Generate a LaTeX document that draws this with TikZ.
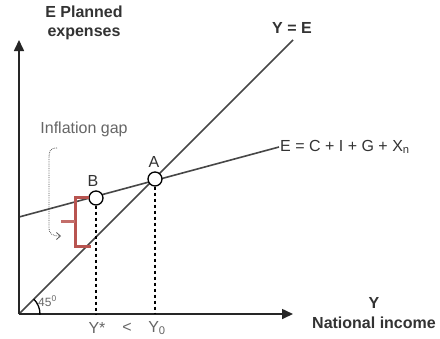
\documentclass[tikz,border=0pt]{standalone}
\usepackage{fontspec}
\setmainfont{Liberation Sans}
\usetikzlibrary{arrows.meta,calc}
\definecolor{ink}{HTML}{333333}
\definecolor{soft}{HTML}{666666}
\definecolor{gapred}{HTML}{B85450}
\begin{document}
\begin{tikzpicture}[x=1bp,y=-1bp,
  lbl/.style={inner sep=0pt,text=ink,font=\fontsize{16bp}{19bp}\selectfont},
  blbl/.style={lbl,font=\fontsize{16bp}{19bp}\selectfont\bfseries},
  glbl/.style={lbl,text=soft},
  axisline/.style={draw=black!85,line width=1.6bp,-{Triangle[length=11bp,width=10bp]}},
  curve/.style={draw=black!72,line width=1.6bp},
  pt/.style={circle,draw=black,fill=white,line width=1.3bp,minimum size=14bp,inner sep=0pt},
  guide/.style={draw=black,line width=1.5bp,dash pattern=on 3bp off 3bp},
  gap/.style={draw=gapred,line width=3bp},
  note/.style={draw=black!65,line width=0.8bp,densely dotted}]
\useasboundingbox (0,0) rectangle (440,338);
\fill[white] (0,0) rectangle (440,338);
% coordinates
\coordinate (O) at (19,314);
\coordinate (ytip) at (19,40);
\coordinate (xtip) at (293,314);
\coordinate (ye) at (293,40);
\coordinate (e0) at (19,217);
\coordinate (e1) at (279,147);
% lines
\draw[curve] (O) -- (ye);
\draw[curve] (e0) -- (e1);
\draw[axisline] (O) -- (ytip);
\draw[axisline] (O) -- (xtip);
% points
\node[pt] (A) at (155,179) {};
\node[pt] (B) at (96,198) {};
\coordinate (Ay) at (155,314);
\coordinate (By) at (96,314);
\draw[guide] (A.south) -- (Ay);
\draw[guide] (B.south) -- (By);
% red bracket
\coordinate (g1) at (89,197);
\coordinate (g2) at (75,197);
\coordinate (g3) at (75,246);
\coordinate (g4) at (91,246);
\coordinate (gt0) at (61,221);
\coordinate (gt1) at (75,221);
\draw[gap] (g1) -- (g2) -- (g3) -- (g4);
\draw[gap,draw=gapred!85] (gt0) -- (gt1);
% dotted curve arrow
\coordinate (c0) at (57,148);
\coordinate (c1) at (61,236);
\draw[note,-{Straight Barb[length=4bp,width=7bp]}] (c0) .. controls (50,148) and (49,151) .. (49,158) -- (49,227) .. controls (49,234) and (52,236) .. (c1);
% angle
\draw[draw=black,line width=1.3bp] ($(O)+(14.85,-14.85)$) arc[start angle=45,end angle=-2,radius=21bp];
\node[glbl,font=\fontsize{12bp}{14bp}\selectfont,anchor=west] (ang) at (38,301) {45\textsuperscript{0}};
% labels
\node[blbl,align=center] (ylab) at (84,23) {E Planned\\expenses};
\node[blbl] (yelab) at (292,28) {Y = E};
\node[lbl,anchor=west] (elab) at (280,147) {E = C + I + G + X\textsubscript{n}};
\node[glbl] (infl) at (84,129) {Inflation gap};
\node[lbl] (Alab) at (154,162) {A};
\node[lbl] (Blab) at (93,181) {B};
\node[glbl] (ystar) at (97,328) {Y*};
\node[glbl] (lt) at (127,328) {<};
\node[glbl] (y0) at (157,328) {Y\textsubscript{0}};
\node[blbl] (xlab1) at (374,303) {Y};
\node[blbl] (xlab2) at (374,323) {National income};
\end{tikzpicture}
\end{document}
